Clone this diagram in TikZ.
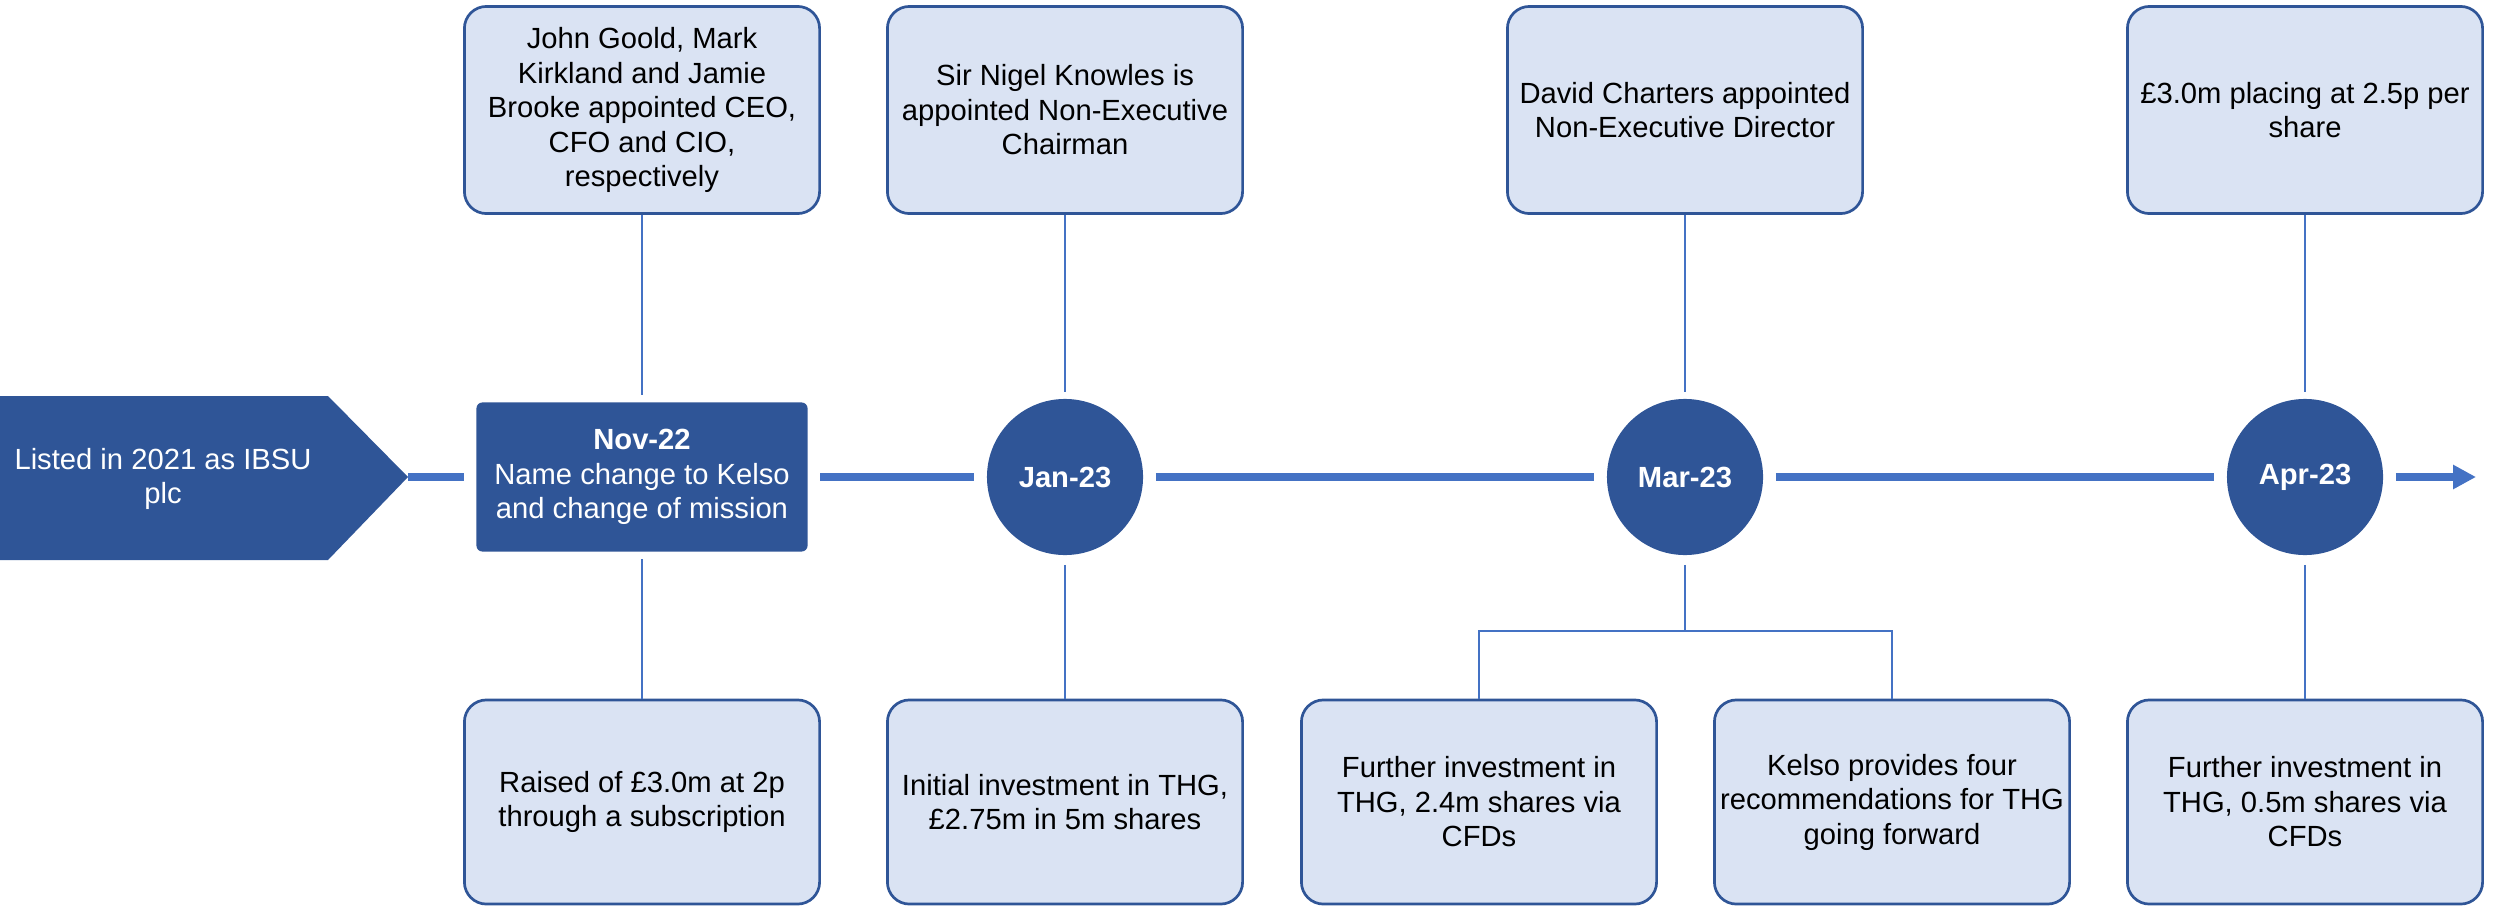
\documentclass[tikz,border=0pt]{standalone}
\usepackage{fontspec}
\setmainfont{Liberation Sans}
\usetikzlibrary{arrows.meta}
\definecolor{dkblue}{RGB}{47,85,151}
\definecolor{lnblue}{RGB}{68,114,196}
\definecolor{bxfill}{RGB}{218,227,243}
\begin{document}
\begin{tikzpicture}[x=0.01cm,y=-0.01cm,
  every node/.style={font=\fontsize{8.3}{9.8}\selectfont, align=center, inner sep=0pt},
  infobox/.style={draw=dkblue, line width=0.027cm, fill=bxfill, rounded corners=0.22cm, minimum width=3.55cm, text=black},
  topbox/.style={infobox, minimum height=2.07cm},
  botbox/.style={infobox, minimum height=2.04cm},
  datecircle/.style={circle, fill=dkblue, minimum size=1.56cm, text=white, font=\fontsize{8.3}{9.8}\selectfont\bfseries},
  novbox/.style={fill=dkblue, rounded corners=0.06cm, minimum width=3.31cm, minimum height=1.49cm, text=white},
  tline/.style={draw=lnblue, line width=0.08cm, shorten <=0.12cm, shorten >=0.12cm},
  link/.style={draw=lnblue, line width=0.015cm},
]
\useasboundingbox (0,0) rectangle (2503,906);

% start pentagon
\fill[dkblue] (0,396) -- (328,396) -- (408,477) -- (328,560) -- (0,560) -- cycle;
\coordinate (tip) at (408,477);
\node[text=white] (listed) at (163,479) {Listed in 2021 as IBSU\\plc};

% timeline nodes
\node[novbox] (nov) at (642,477) {\textbf{Nov-22}\\Name change to Kelso\\and change of mission};
\node[datecircle] (jan) at (1065,477) {Jan-23};
\node[datecircle] (mar) at (1685,477) {Mar-23};
\node[datecircle] (apr) at (2305,477) {Apr-23};
\coordinate (endpt) at (2476,477);

% timeline
\draw[tline, shorten <=0pt] (tip) -- (nov);
\draw[tline] (nov) -- (jan);
\draw[tline] (jan) -- (mar);
\draw[tline] (mar) -- (apr);
\draw[tline, shorten >=0pt, -{Triangle[length=0.23cm,width=0.23cm]}] (apr) -- (endpt);

% top boxes
\node[topbox] (t1) at (642,110) {John Goold, Mark\\Kirkland and Jamie\\Brooke appointed CEO,\\CFO and CIO,\\respectively};
\node[topbox] (t2) at (1065,110) {Sir Nigel Knowles is\\appointed Non-Executive\\Chairman};
\node[topbox] (t3) at (1685,110) {David Charters appointed\\Non-Executive Director};
\node[topbox] (t4) at (2305,110) {£3.0m placing at 2.5p per\\share};

% bottom boxes
\node[botbox] (b1) at (642,802) {Raised of £3.0m at 2p\\through a subscription};
\node[botbox] (b2) at (1065,802) {Initial investment in THG,\\£2.75m in 5m shares};
\node[botbox] (b3a) at (1479,802) {Further investment in\\THG, 2.4m shares via\\CFDs};
\node[botbox] (b3b) at (1892,802) {Kelso provides four\\recommendations for THG\\going forward};
\node[botbox] (b4) at (2305,802) {Further investment in\\THG, 0.5m shares via\\CFDs};

% connectors
\draw[link, shorten >=0.065cm] (t1) -- (nov);
\draw[link, shorten >=0.06cm] (t2) -- (jan);
\draw[link, shorten >=0.06cm] (t3) -- (mar);
\draw[link, shorten >=0.06cm] (t4) -- (apr);
\draw[link, shorten <=0.07cm] (nov) -- (b1);
\draw[link, shorten <=0.09cm] (jan) -- (b2);
\draw[link, shorten <=0.09cm] (apr) -- (b4);
\coordinate (mj) at (1685,631);
\draw[link, shorten <=0.09cm] (mar) -- (mj);
\draw[link] (b3a.north) |- (mj) -| (b3b.north);
\end{tikzpicture}
\end{document}
